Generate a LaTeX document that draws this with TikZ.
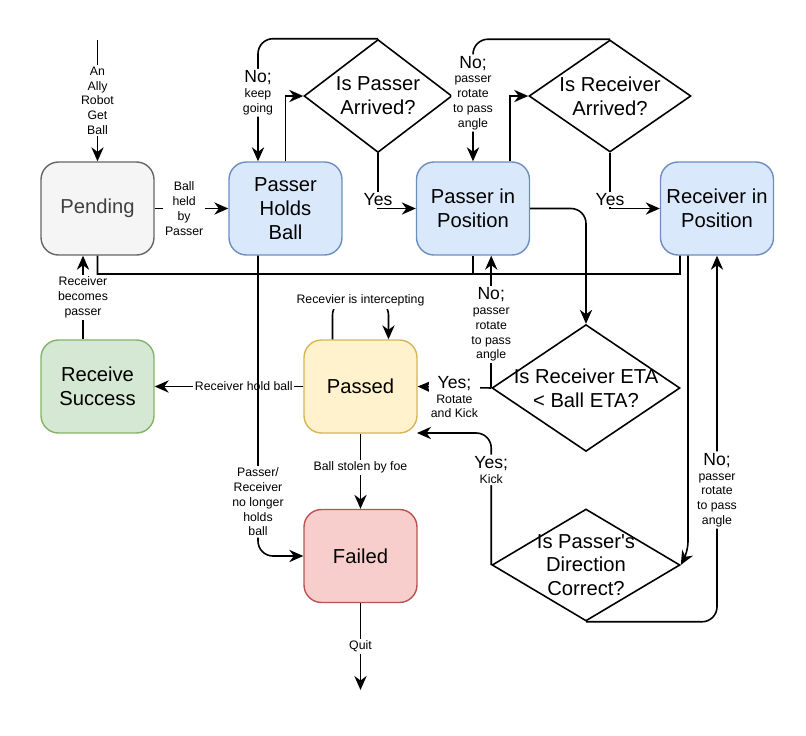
\documentclass[tikz,border=0pt]{standalone}
\usepackage{fontspec}
\setmainfont{Liberation Sans}
\usetikzlibrary{arrows.meta,shapes.geometric,positioning,calc}
\definecolor{greyfill}{HTML}{F5F5F5}\definecolor{greyline}{HTML}{666666}
\definecolor{bluefill}{HTML}{DAE8FC}\definecolor{blueline}{HTML}{6C8EBF}
\definecolor{greenfill}{HTML}{D5E8D4}\definecolor{greenline}{HTML}{82B366}
\definecolor{yellowfill}{HTML}{FFF2CC}\definecolor{yellowline}{HTML}{D6B656}
\definecolor{redfill}{HTML}{F8CECC}\definecolor{redline}{HTML}{B85450}
\tikzset{
  state/.style={rectangle, rounded corners=0.35cm, line width=0.8pt, minimum width=2.26cm, minimum height=1.86cm, align=center, font=\fontsize{11.5}{13.5}\selectfont},
  question/.style={diamond, draw, line width=0.9pt, inner sep=-8pt, align=center, font=\fontsize{11.5}{13.5}\selectfont},
  flow/.style={line width=0.9pt, -{Stealth[length=8pt,width=7pt]}},
  lbl/.style={fill=white, inner sep=1pt, align=center, font=\fontsize{7}{8.4}\selectfont},
}
\newcommand{\bigword}[1]{{\fontsize{10}{11.5}\selectfont #1}}
\begin{document}
\begin{tikzpicture}[x=0.02cm, y=-0.02cm]
            \useasboundingbox (0,0) rectangle (806,735);
            % States
            \node[state, fill=greyfill, draw=greyline, text=black!75] (pending) at (97.5,208.5) {Pending};
            \node[state, fill=bluefill, draw=blueline] (phb) at (285.5,208.5) {Passer\\Holds\\Ball};
            \node[state, fill=bluefill, draw=blueline] (pip) at (473,208.5) {Passer in\\Position};
            \node[state, fill=bluefill, draw=blueline] (rip) at (717,208.5) {Receiver in\\Position};
            \node[state, fill=greenfill, draw=greenline] (rs) at (97.5,386.5) {Receive\\Success};
            \node[state, fill=yellowfill, draw=yellowline] (passed) at (360.5,386.5) {Passed};
            \node[state, fill=redfill, draw=redline] (failed) at (360.5,556) {Failed};

            % Questions
            \node[question, minimum width=2.96cm, minimum height=2.26cm] (d1) at (378,96) {Is Passer\\Arrived?};
            \node[question, minimum width=3.24cm, minimum height=2.24cm] (d2) at (610,96) {Is Receiver\\Arrived?};
            \node[question, minimum width=3.76cm, minimum height=2.44cm] (eta) at (586,388) {Is Receiver ETA\\< Ball ETA?};
            \node[question, minimum width=3.76cm, minimum height=2.24cm] (dir) at (586,565) {Is Passer\textquotesingle s\\Direction\\Correct?};

            \coordinate (start) at (97.5,40);
            \coordinate (quit) at (360.5,690);

            % Top row
            \draw[flow] (start) -- node[lbl]{An\\Ally\\Robot\\Get\\Ball} (pending.north);
            \draw[flow] (pending.east) -- node[lbl, pos=0.4]{Ball\\held\\by\\Passer} (phb.west);
            \draw[flow] (phb.north) |- (d1.west);
            \draw[flow, rounded corners=0.3cm] (d1.north) -| node[lbl, pos=0.72]{\bigword{No;}\\keep\\going} ([xshift=-0.55cm]phb.north);
            \draw[flow] (d1.south) |- node[lbl, pos=0.42]{\bigword{Yes}} (pip.west);
            \draw[flow] ([xshift=0.74cm]pip.north) |- (d2.west);
            \draw[flow, rounded corners=0.3cm] (d2.north) -| node[lbl, pos=0.72]{\bigword{No;}\\passer\\rotate\\to pass\\angle} (pip.north);
            \draw[flow] (d2.south) |- node[lbl, pos=0.42]{\bigword{Yes}} (rip.west);
            \draw[flow, rounded corners=0.3cm] (pip.east) -| (eta.north);

            % Line under the top row
            \draw[line width=0.9pt] (pending.south) |- (680,274) -- ([xshift=-0.74cm]rip.south);
            \draw[line width=0.9pt] (pip.south) -- (pip.south |- 0,274);

            % Right side
            \draw[flow] (eta.west) -- node[lbl, pos=0.48]{\bigword{No;}\\passer\\rotate\\to pass\\angle} (eta.west |- pip.south);
            \draw[flow] (eta.west) -- node[lbl, pos=0.5, yshift=-0.2cm]{\bigword{Yes;}\\Rotate\\and Kick} (passed.east);
            \draw[flow, rounded corners=0.3cm] (dir.west) |- node[lbl, pos=0.36]{\bigword{Yes;}\\Kick} (417,433);
            \draw[flow, rounded corners=0.2cm] ([xshift=-0.58cm]rip.south) -- (688,552) -- (dir.east);
            \draw[flow, rounded corners=0.3cm] (dir.south) -| node[lbl, pos=0.68]{\bigword{No;}\\passer\\rotate\\to pass\\angle} (rip.south);

            % Passed and Failed
            \draw[flow, rounded corners=0.3cm] ([xshift=-0.56cm]passed.north) |- (360.5,300) -| ([xshift=0.56cm]passed.north);
            \node[lbl, inner sep=2pt] (intercept) at (360.5,300) {Recevier is intercepting};
            \draw[flow] (passed.west) -- node[lbl, pos=0.4]{Receiver hold ball} (rs.east);
            \draw[flow] ([xshift=-0.29cm]rs.north) -- node[lbl]{Receiver\\becomes\\passer} ([xshift=-0.29cm]pending.south);
            \draw[flow] (passed.south) -- node[lbl, pos=0.45]{Ball stolen by foe} (failed.north);
            \draw[flow, rounded corners=0.3cm] ([xshift=-0.55cm]phb.south) |- node[lbl, pos=0.41]{Passer/\\Receiver\\no longer\\holds\\ball} (failed.west);
            \draw[flow] (failed.south) -- node[lbl]{Quit} (quit);
\end{tikzpicture}
\end{document}
